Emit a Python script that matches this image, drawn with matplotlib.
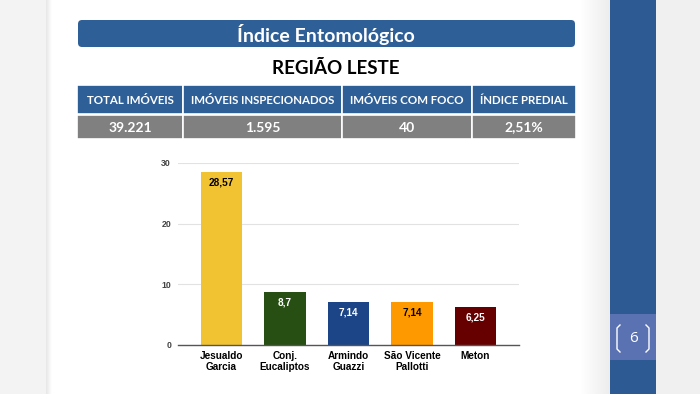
import matplotlib
matplotlib.use("Agg")
import matplotlib.pyplot as plt
import numpy as np
from matplotlib.patches import Rectangle, FancyBboxPatch

# ---- data ----
title = "Índice Entomológico"
subtitle = "REGIÃO LESTE"
table_headers = ["TOTAL IMÓVEIS", "IMÓVEIS INSPECIONADOS", "IMÓVEIS COM FOCO", "ÍNDICE PREDIAL"]
table_values = ["39.221", "1.595", "40", "2,51%"]
categories = ["Jesualdo\nGarcia", "Conj.\nEucaliptos", "Armindo\nGuazzi", "São Vicente\nPallotti", "Meton"]
values = [28.57, 8.7, 7.14, 7.14, 6.25]
value_labels = ["28,57", "8,7", "7,14", "7,14", "6,25"]
bar_colors = ["#F1C232", "#274E13", "#1C4587", "#FF9900", "#660000"]
label_colors = ["black", "white", "white", "black", "white"]
yticks = [0, 10, 20, 30]
page_number = "6"

W, H = 700, 394
fig = plt.figure(figsize=(7, 3.94), dpi=100)
fig.patch.set_facecolor("white")

# background axes in pixel coordinates
bg = fig.add_axes([0, 0, 1, 1])
bg.set_xlim(0, W)
bg.set_ylim(H, 0)
bg.axis("off")

# left gray margin
bg.add_patch(Rectangle((0, 0), 46, H, color="#F3F3F3", lw=0))
grad = np.linspace(0, 1, 30)[None, :]
bg.imshow(grad, extent=(40, 52, H, 0), cmap=matplotlib.colors.LinearSegmentedColormap.from_list(
    "g1", ["#F3F3F3", "#E6E6E6", "#FFFFFF"]), aspect="auto", zorder=0.5)
# right shading before sidebar
bg.imshow(grad, extent=(580, 610, H, 0), cmap=matplotlib.colors.LinearSegmentedColormap.from_list(
    "g2", ["#FFFFFF", "#EDEDED"]), aspect="auto", zorder=0.5)
bg.add_patch(Rectangle((656, 0), W - 656, H, color="#F0F0F0", lw=0))
# sidebar
bg.add_patch(Rectangle((610, 0), 46, H, color="#2E5A94", lw=0, zorder=1))
bg.add_patch(Rectangle((610, 314), 46, 46, color="#5B72B2", lw=0, zorder=2))
bg.text(633, 338, page_number, color="white", fontsize=11, ha="center", va="center",
        family="Open Sans", zorder=3)
# brackets
bl_x = [620, 617, 617, 620]
bl_y = [325, 328, 349, 352]
bg.plot(bl_x, bl_y, color="white", lw=1.0, zorder=3)
br_x = [646, 649, 649, 646]
bg.plot(br_x, bl_y, color="white", lw=1.0, zorder=3)

bg.set_xlim(0, W)
bg.set_ylim(H, 0)

# title bar
bg.add_patch(FancyBboxPatch((78, 20), 497, 27, boxstyle="round,pad=0,rounding_size=4",
                            fc="#2F5F97", ec="none", zorder=2))
bg.text(326, 34, title, color="white", fontsize=14, fontweight="bold",
        family="Lato", ha="center", va="center", zorder=3)
bg.text(336, 68, subtitle, color="black", fontsize=13.5, fontweight="bold",
        family="Lato", ha="center", va="center", zorder=3)

# table
col_edges = [77, 183, 342, 472, 576]
for i in range(4):
    x0, x1 = col_edges[i], col_edges[i + 1]
    bg.add_patch(Rectangle((x0, 85), x1 - x0, 29, fc="#2F5F97", ec="white", lw=1.2, zorder=2))
    bg.add_patch(Rectangle((x0, 115), x1 - x0, 24, fc="#808080", ec="white", lw=1.2, zorder=2))
    bg.text((x0 + x1) / 2, 100, table_headers[i], color="white", fontsize=8.3, fontweight="bold",
            family="Lato", ha="center", va="center", zorder=3)
    bg.text((x0 + x1) / 2, 127.5, table_values[i], color="white", fontsize=10, fontweight="bold",
            family="Lato", ha="center", va="center", zorder=3)

# chart
ax = fig.add_axes([178 / W, (H - 345) / H, 341 / W, 182 / H])
ax.patch.set_alpha(0)
x = np.arange(len(categories))
ax.bar(x, values, width=0.65, color=bar_colors, zorder=2)
for xi, v, lab, c in zip(x, values, value_labels, label_colors):
    ax.text(xi, v - 0.9, lab, ha="center", va="top", color=c, fontsize=7.2,
            fontweight="bold", family="Liberation Sans", zorder=3)
ax.set_xlim(-0.685, len(categories) - 1 + 0.685)
ax.set_ylim(0, 30)
ax.set_yticks(yticks)
ax.set_yticklabels([str(t) for t in yticks], fontsize=6.3, color="#444444",
                   family="Liberation Sans", fontweight="bold")
ax.set_xticks(x)
ax.set_xticklabels(categories, fontsize=7.2, fontweight="bold", family="Liberation Sans",
                   color="black", linespacing=1.15)
ax.tick_params(axis="both", length=0)
ax.tick_params(axis="y", pad=5)
ax.tick_params(axis="x", pad=4.5)
ax.grid(axis="y", color="#E2E2E2", lw=0.8, zorder=1)
ax.set_axisbelow(True)
for s in ["top", "right", "left"]:
    ax.spines[s].set_visible(False)
ax.spines["bottom"].set_color("#555555")
ax.spines["bottom"].set_linewidth(1.0)
ax.spines["bottom"].set_zorder(4)

fig.savefig("out.png", dpi=100)
